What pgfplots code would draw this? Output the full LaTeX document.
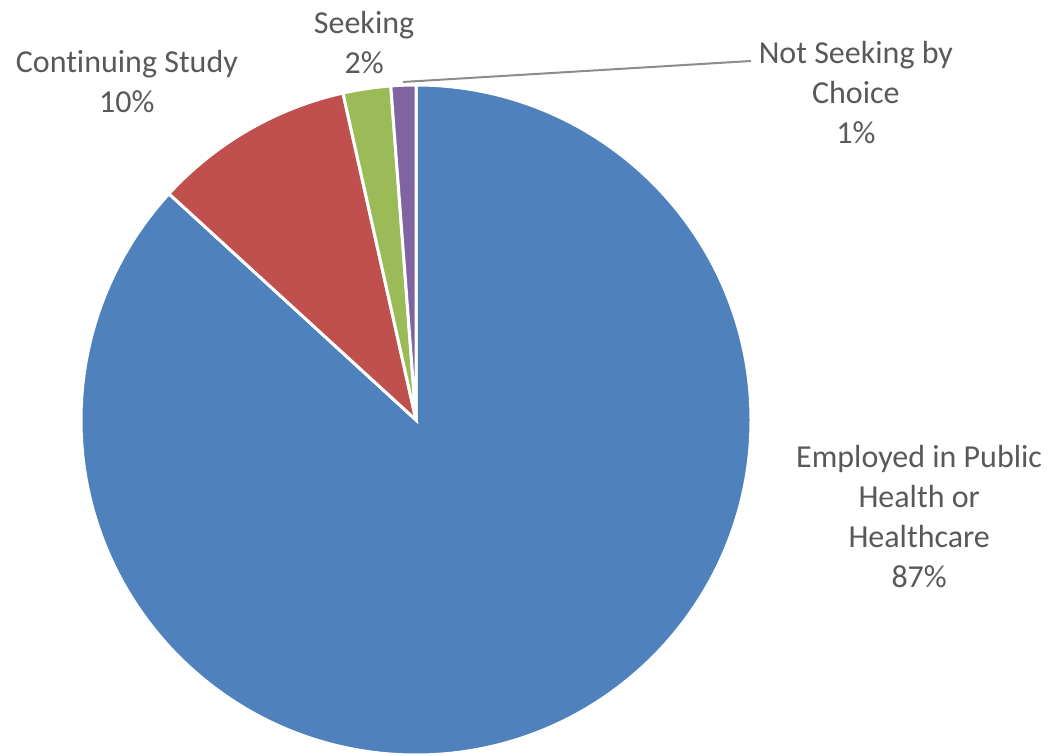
\documentclass[border=0pt]{standalone}
\usepackage{pgfplots}
\usepackage{pgfplotstable}
\pgfplotsset{compat=1.18}
\usepackage{fontspec}
\setmainfont{Carlito}[Ligatures=NoCommon]
\definecolor{cblue}{HTML}{4F81BD}
\definecolor{cred}{HTML}{C0504D}
\definecolor{cgreen}{HTML}{9BBB59}
\definecolor{cpurple}{HTML}{8064A2}
\definecolor{ctext}{HTML}{595959}
\definecolor{cline}{HTML}{8C8C8C}
\pgfplotstableread{
label value
Employed 86.8
Continuing 9.7
Seeking 2.3
NotSeeking 1.2
}\piedata
\begin{document}
\begin{tikzpicture}[lbl/.style={text=ctext, align=center, font=\fontsize{16}{20}\selectfont, inner sep=0pt}]
\pgfplotstablegetelem{0}{value}\of\piedata \let\vA\pgfplotsretval
\pgfplotstablegetelem{1}{value}\of\piedata \let\vB\pgfplotsretval
\pgfplotstablegetelem{2}{value}\of\piedata \let\vC\pgfplotsretval
\pgfplotstablegetelem{3}{value}\of\piedata \let\vD\pgfplotsretval
\pgfmathsetmacro\aA{90}
\pgfmathsetmacro\aB{\aA-3.6*\vA}
\pgfmathsetmacro\aC{\aB-3.6*\vB}
\pgfmathsetmacro\aD{\aC-3.6*\vC}
\pgfmathsetmacro\aE{\aD-3.6*\vD}
\begin{axis}[
  scale only axis, width=526pt, height=378pt,
  xmin=-1.2418, xmax=1.8985, ymin=-1.003, ymax=1.2537,
  hide axis, clip=false,
]
\coordinate (bbsw) at (rel axis cs:0,0);
\coordinate (bbne) at (rel axis cs:1,1);
\fill[cblue, draw=white, line width=1.5pt] (axis cs:0,0) -- (axis cs:{cos(\aA)},{sin(\aA)}) arc[start angle=\aA, end angle=\aB, radius=1] -- cycle;
\fill[cred, draw=white, line width=1.5pt] (axis cs:0,0) -- (axis cs:{cos(\aB)},{sin(\aB)}) arc[start angle=\aB, end angle=\aC, radius=1] -- cycle;
\fill[cgreen, draw=white, line width=1.5pt] (axis cs:0,0) -- (axis cs:{cos(\aC)},{sin(\aC)}) arc[start angle=\aC, end angle=\aD, radius=1] -- cycle;
\fill[cpurple, draw=white, line width=1.5pt] (axis cs:0,0) -- (axis cs:{cos(\aD)},{sin(\aD)}) arc[start angle=\aD, end angle=\aE, radius=1] -- cycle;
\addplot[cline, line width=1pt, no marks] coordinates {(-0.0388,1.009) (1.0,1.0716)};
\node[lbl] at (axis cs:1.502,-0.287) {Employed in Public\\Health or\\Healthcare\\87\%};
\node[lbl] at (axis cs:-0.863,1.009) {Continuing Study\\10\%};
\node[lbl] at (axis cs:-0.155,1.128) {Seeking\\2\%};
\node[lbl] at (axis cs:1.313,0.979) {Not Seeking by\\Choice\\1\%};
\end{axis}
\pgfresetboundingbox
\useasboundingbox (bbsw) rectangle (bbne);
\end{tikzpicture}
\end{document}
